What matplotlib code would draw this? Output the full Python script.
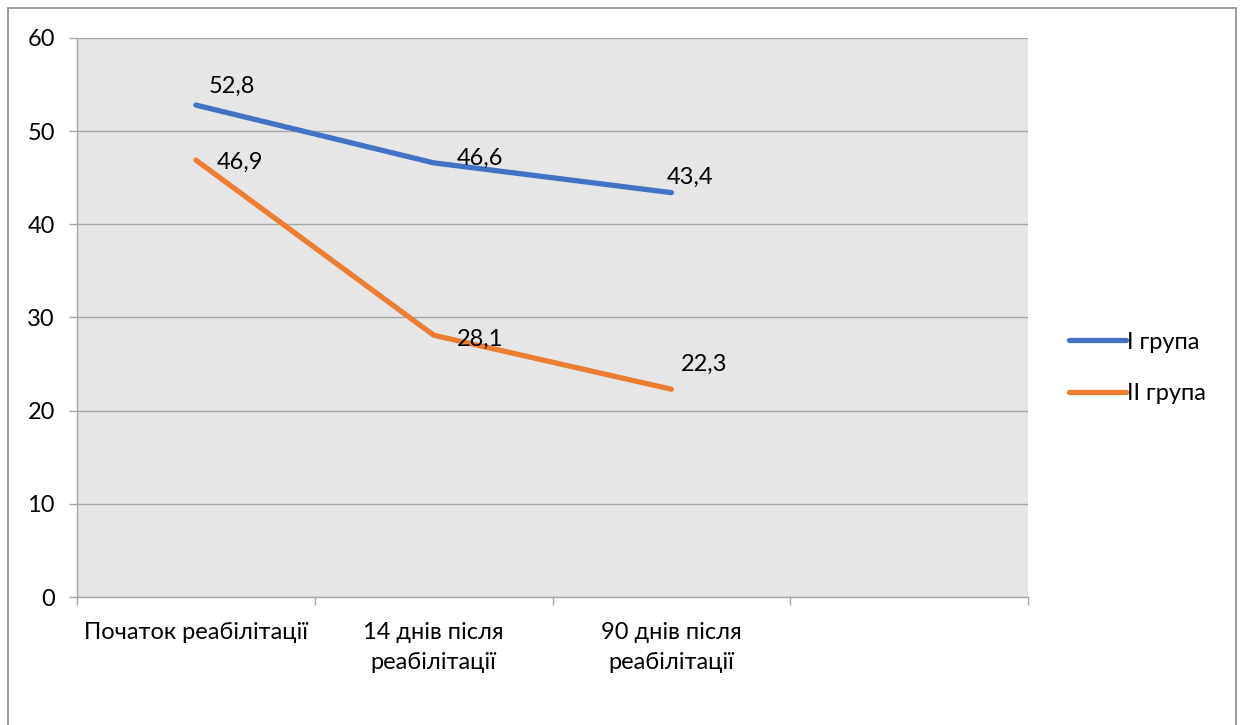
import matplotlib.pyplot as plt
from matplotlib.patches import Rectangle

# stages of rehabilitation (4th slot is left empty on the axis)
stages = ["Початок реабілітації", "14 днів після\nреабілітації", "90 днів після\nреабілітації", ""]
group1 = [52.8, 46.6, 43.4]
group2 = [46.9, 28.1, 22.3]
series_names = ["I група", "II група"]
y_ticks = [0, 10, 20, 30, 40, 50, 60]

plt.rcParams['font.family'] = ['Lato', 'DejaVu Sans']
plt.rcParams['font.size'] = 17

fig = plt.figure(figsize=(12.41, 7.25), dpi=100)
ax = fig.add_axes([77 / 1241, 1 - 597 / 725, (1028 - 77) / 1241, (597 - 38) / 725])
ax.set_facecolor('#E7E6E6')

grid_c = '#A6A6A6'
x = list(range(len(group1)))
l1, = ax.plot(x, group1, color='#4472C4', lw=3.8, solid_capstyle='round', solid_joinstyle='round', zorder=3)
l2, = ax.plot(x, group2, color='#ED7D31', lw=3.8, solid_capstyle='round', solid_joinstyle='round', zorder=3)

# label offsets in points, per series
offs1 = [(9.5, 13.5), (16.5, 3), (-3, 11)]
offs2 = [(15, -2), (16.5, -3), (7, 18)]
for xi, v, o in zip(x, group1, offs1):
    ax.annotate(f"{v:.1f}".replace('.', ','), (xi, v), xytext=o, textcoords='offset points',
                ha='left', va='center', fontsize=17, zorder=4)
for xi, v, o in zip(x, group2, offs2):
    ax.annotate(f"{v:.1f}".replace('.', ','), (xi, v), xytext=o, textcoords='offset points',
                ha='left', va='center', fontsize=17, zorder=4)

ax.set_xlim(-0.5, len(stages) - 0.5)
ax.set_ylim(0, 60)
ax.set_yticks(y_ticks)
ax.yaxis.grid(True, color=grid_c, lw=1)
ax.set_axisbelow(True)

ax.set_xticks([i - 0.5 for i in range(len(stages) + 1)])
ax.set_xticklabels([])
ax.set_xticks(range(len(stages)), minor=True)
ax.set_xticklabels(stages, minor=True, linespacing=1.55)
ax.tick_params(axis='x', which='major', length=6, color=grid_c, width=1)
ax.tick_params(axis='x', which='minor', length=0, pad=18)
ax.tick_params(axis='y', length=6, color=grid_c, width=1, pad=10)

for s in ['top', 'right']:
    ax.spines[s].set_visible(False)
for s in ['left', 'bottom']:
    ax.spines[s].set_color(grid_c)
    ax.spines[s].set_linewidth(1)

fig.legend([l1, l2], series_names, loc='center left', bbox_to_anchor=(1048 / 1241, 1 - 368 / 725),
           frameon=False, fontsize=17, handlelength=2.4, handletextpad=0.05, labelspacing=1.3)

# outer chart border
fig.patches.append(Rectangle((8 / 1241, -0.05), (1236 - 8) / 1241, 1.05 - 8 / 725,
                             transform=fig.transFigure, fill=False, edgecolor='#8C8C8C', lw=1.2))

fig.savefig('out.png', dpi=100)
